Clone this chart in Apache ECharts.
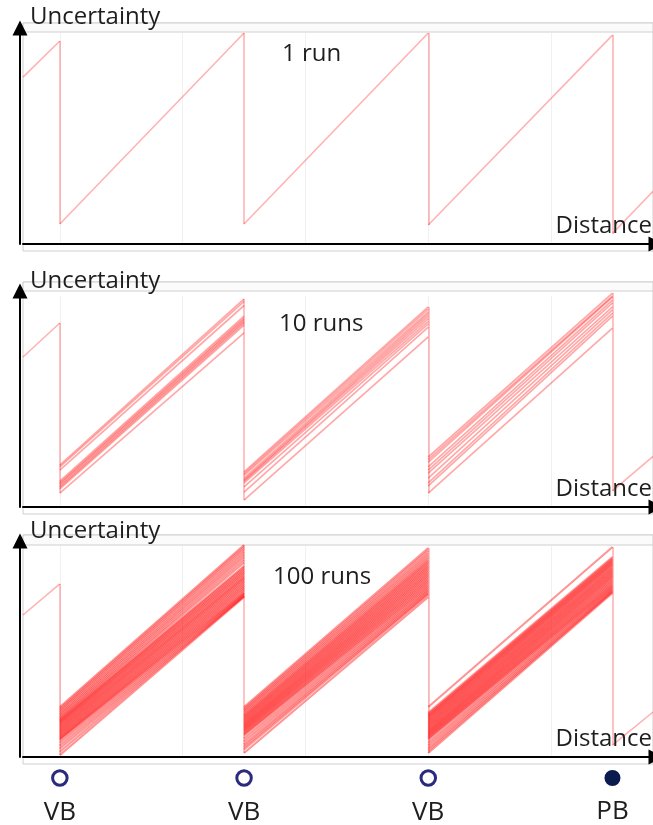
<!DOCTYPE html>
<html><head><meta charset="utf-8">
<script src="https://cdn.jsdelivr.net/npm/echarts@6/dist/echarts.min.js"></script>
<style>html,body{margin:0;padding:0;background:#fff}#c{width:653px;height:825px}</style>
</head><body><div id="c"></div>
<script>
// ---- distance axis (arbitrary units) ----
const xStart = 0.4, xEnd = 10.66;
const vbX = [1, 4, 7];          // virtual beacons
const pbX = 10;                 // physical beacon
const gridX = [1, 3, 5, 7, 9];  // faint vertical grid lines
const markerLabels = ['VB', 'VB', 'VB', 'PB'];
const panelLabels = ['1 run', '10 runs', '100 runs'];

// ---- panel 1 : 1 run ----  [value at segment start, value at segment end]
const p1Lead = [0.791, 0.962];
const p1Seg1 = [[0.095, 1.000]];
const p1Seg2 = [[0.095, 1.000]];
const p1Seg3 = [[0.090, 0.990]];
const p1Tail = [0.050, 0.250];

// ---- panel 2 : 10 runs ----
const p2Lead = [0.711, 0.872];
const p2Seg1 = [[0.199,0.986],[0.190,0.975],[0.175,0.955],[0.123,0.905],[0.114,0.895],[0.108,0.888],[0.100,0.880],[0.093,0.872],[0.086,0.862],[0.066,0.825]];
const p2Seg2 = [[0.166,0.948],[0.158,0.938],[0.150,0.925],[0.137,0.915],[0.128,0.905],[0.123,0.893],[0.114,0.880],[0.095,0.868],[0.071,0.853],[0.033,0.806]];
const p2Seg3 = [[0.237,1.014],[0.225,1.000],[0.213,0.995],[0.190,0.981],[0.175,0.967],[0.161,0.948],[0.137,0.934],[0.114,0.919],[0.100,0.905],[0.066,0.848]];
const p2Tail = [0.076, 0.240];

// ---- panel 3 : 100 runs ----
const p3Lead = [0.673, 0.820];
const p3Seg1 = [[0.237,1.005],[0.228,0.995],[0.220,0.985],[0.212,0.972],[0.204,0.960],[0.196,0.948],[0.188,0.935],[0.181,0.922],
  [0.175,0.905],[0.170,0.898],[0.164,0.890],[0.158,0.882],[0.152,0.874],[0.146,0.866],[0.140,0.858],[0.134,0.851],[0.128,0.844],[0.122,0.836],[0.116,0.828],[0.110,0.820],[0.104,0.812],[0.098,0.804],[0.092,0.796],[0.086,0.788],[0.081,0.780],
  [0.068,0.775],[0.054,0.770],[0.040,0.765],[0.025,0.762],[0.009,0.758]];
const p3Seg2 = [[0.237,0.990],[0.229,0.978],[0.221,0.966],[0.213,0.955],[0.205,0.944],
  [0.198,0.934],[0.192,0.926],[0.186,0.918],[0.180,0.910],[0.174,0.902],[0.168,0.894],[0.162,0.886],[0.156,0.878],[0.150,0.870],[0.144,0.862],[0.138,0.854],[0.132,0.846],[0.126,0.838],[0.120,0.830],[0.114,0.822],[0.108,0.814],[0.102,0.806],
  [0.088,0.798],[0.074,0.790],[0.060,0.783],[0.048,0.776],[0.036,0.770],[0.019,0.758]];
const p3Seg3 = [[0.237,0.995],
  [0.209,0.948],[0.202,0.940],[0.196,0.934],[0.190,0.928],[0.184,0.922],[0.178,0.916],[0.172,0.910],[0.166,0.903],[0.160,0.896],[0.154,0.889],[0.148,0.882],[0.142,0.875],[0.136,0.868],[0.130,0.861],[0.124,0.854],[0.118,0.847],[0.112,0.840],[0.106,0.833],[0.100,0.826],[0.094,0.819],[0.088,0.812],[0.082,0.806],
  [0.068,0.800],[0.055,0.794],[0.042,0.788],[0.030,0.783],[0.019,0.778]];
const p3Tail = [0.056, 0.213];

const panels = [
  {lead: p1Lead, segs: [p1Seg1, p1Seg2, p1Seg3], tail: p1Tail},
  {lead: p2Lead, segs: [p2Seg1, p2Seg2, p2Seg3], tail: p2Tail},
  {lead: p3Lead, segs: [p3Seg1, p3Seg2, p3Seg3], tail: p3Tail}
];

// ---- layout / style (pixels) ----
const axisPx = [244, 507, 757];   // y pixel of the distance axis in each panel
const frameTop = [23, 282, 535];
const stripH = [9, 9, 10];
const unitPx = 211;
const FONT = '"Open Sans", "Noto Sans", sans-serif';
const lineColor = 'rgba(255,0,0,0.3)';
const bandStyle = [
  {color: 'rgba(255,0,0,0.3)', width: 1.6},
  {color: 'rgba(255,0,0,0.34)', width: 1.7},
  {color: 'rgba(255,0,0,0.42)', width: 2.1}
];

const grid = [], xAxis = [], yAxis = [], series = [], graphic = [];
function hiddenAxes(gi) {
  xAxis.push({type: 'value', gridIndex: gi, show: false, min: xStart, max: xEnd});
  yAxis.push({type: 'value', gridIndex: gi, show: false, min: 0, max: 1});
}

panels.forEach((p, i) => {
  // frame + title strip
  let gi = grid.length;
  grid.push({left: 23, right: -10, top: frameTop[i], height: axisPx[i] + 7 - frameTop[i], show: true, borderColor: '#cfcfcf', borderWidth: 1, backgroundColor: '#fff'});
  hiddenAxes(gi);
  gi = grid.length;
  grid.push({left: 23, right: -10, top: frameTop[i], height: stripH[i], show: true, borderColor: '#cfcfcf', borderWidth: 1, backgroundColor: '#fbfbfb'});
  hiddenAxes(gi);
  // data grid
  gi = grid.length;
  grid.push({left: 23, right: 0, top: axisPx[i] - unitPx, height: unitPx});
  const axLine = {show: true, onZero: false, lineStyle: {color: '#000', width: 2}};
  xAxis.push({type: 'value', gridIndex: gi, min: xStart, max: xEnd,
    axisLine: Object.assign({}, axLine, {symbol: ['none', 'triangle'], symbolSize: [15, 15], symbolOffset: [0, 3]}),
    axisTick: {show: false}, axisLabel: {show: false}, splitLine: {show: false}});
  yAxis.push({type: 'value', gridIndex: gi, min: 0, max: 1, offset: 3,
    axisLine: Object.assign({}, axLine, {symbol: ['none', 'triangle'], symbolSize: [15, 15], symbolOffset: [0, 5]}),
    axisTick: {show: false}, axisLabel: {show: false}, splitLine: {show: false}});
  const ai = xAxis.length - 1;

  // faint grid lines
  series.push({type: 'line', xAxisIndex: ai, yAxisIndex: ai, data: [], silent: true, z: 0,
    markLine: {silent: true, symbol: 'none', label: {show: false}, animation: false, z: 0,
      lineStyle: {color: '#f1f1f1', width: 1, type: 'solid'},
      data: gridX.map(x => ({xAxis: x}))}});

  // diagonal segments (bands of runs)
  const bounds = [[vbX[0], vbX[1]], [vbX[1], vbX[2]], [vbX[2], pbX]];
  const bandData = [];
  p.segs.forEach((seg, k) => seg.forEach(v => bandData.push({coords: [[bounds[k][0], v[0]], [bounds[k][1], v[1]]]})));
  // single shared pieces: before first beacon, after physical beacon, and the vertical resets
  const maxEnd = s => Math.max(...s.map(v => v[1]));
  const minStart = s => Math.min(...s.map(v => v[0]));
  const single = [
    {coords: [[xStart, p.lead[0]], [vbX[0], p.lead[1]]]},
    {coords: [[pbX, p.tail[0]], [xEnd, p.tail[1]]]},
    {coords: [[vbX[0], p.lead[1]], [vbX[0], minStart(p.segs[0])]]},
    {coords: [[vbX[1], maxEnd(p.segs[0])], [vbX[1], minStart(p.segs[1])]]},
    {coords: [[vbX[2], maxEnd(p.segs[1])], [vbX[2], minStart(p.segs[2])]]},
    {coords: [[pbX, maxEnd(p.segs[2])], [pbX, p.tail[0]]]}
  ];
  series.push({type: 'lines', coordinateSystem: 'cartesian2d', xAxisIndex: ai, yAxisIndex: ai,
    silent: true, clip: false, z: 3, animation: false,
    lineStyle: {color: lineColor, width: 1.6, opacity: 1, curveness: 0}, data: single});
  series.push({type: 'lines', coordinateSystem: 'cartesian2d', xAxisIndex: ai, yAxisIndex: ai,
    silent: true, clip: false, z: 3, animation: false,
    lineStyle: {color: bandStyle[i].color, width: bandStyle[i].width, opacity: 1, curveness: 0}, data: bandData});

  // texts
  graphic.push({type: 'text', left: 30, top: axisPx[i] - unitPx - 27 - (i === 0 ? 1 : 0), z: 10,
    style: {text: 'Uncertainty', font: '24px ' + FONT, fill: '#1e1e1e'}});
  graphic.push({type: 'text', right: 1, top: axisPx[i] - 30, z: 10,
    style: {text: 'Distance', font: '24px ' + FONT, fill: '#1e1e1e'}});
  graphic.push({type: 'text', left: [282, 279, 273][i], top: axisPx[i] - unitPx + [9, 16, 19][i], z: 10,
    style: {text: panelLabels[i], font: '24px ' + FONT, fill: '#1e1e1e'}});
});

// beacon markers
const mg = grid.length;
grid.push({left: 23, right: 0, top: 770, height: 16});
hiddenAxes(mg);
const beaconX = vbX.concat([pbX]);
series.push({type: 'scatter', xAxisIndex: mg, yAxisIndex: mg, silent: true, animation: false,
  symbol: 'circle', symbolSize: 14.5,
  itemStyle: {opacity: 1},
  data: beaconX.map((x, k) => ({value: [x, 0.5],
    itemStyle: k < vbX.length ? {color: '#fff', borderColor: '#2b2a7c', borderWidth: 3, opacity: 1} : {color: '#0b1b4e', borderColor: '#0b1b4e', borderWidth: 1.5, opacity: 1},
    label: {formatter: markerLabels[k]}})),
  label: {show: true, position: 'bottom', distance: 12, fontSize: 26, lineHeight: 28, fontFamily: FONT, color: '#1e1e1e', opacity: 1}});

const chart = echarts.init(document.getElementById('c'), null, {renderer: 'canvas'});
chart.setOption({animation: false, grid, xAxis, yAxis, series, graphic});
</script></body></html>
